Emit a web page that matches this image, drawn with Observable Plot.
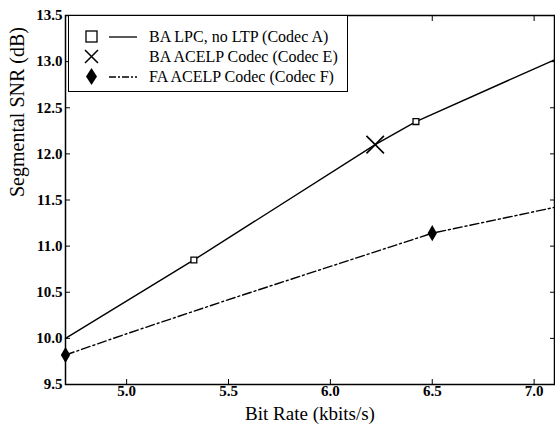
<!DOCTYPE html>
<html>
<head>
<meta charset="utf-8">
<script src="https://cdn.jsdelivr.net/npm/d3@7"></script>
<script src="https://cdn.jsdelivr.net/npm/@observablehq/plot@0.6"></script>
<style>
  body { margin: 0; background: #fff; }
  #wrap { position: relative; width: 555px; height: 424px; font-family: "Liberation Serif", "Times New Roman", "DejaVu Serif", serif; }
  #wrap svg text { font-family: "Liberation Serif", "Times New Roman", "DejaVu Serif", serif; }
  #legend { position: absolute; left: 68px; top: 15px; width: 280px; height: 77px; border: 1.2px solid #000; background: #fff; box-sizing: border-box; }
  .row { position: absolute; left: 0; height: 20px; display: flex; align-items: center; font-size: 16px; color: #000; white-space: nowrap; font-family: "Liberation Serif", "Times New Roman", serif; }
  .row svg { margin-right: 8px; }
</style>
</head>
<body>
<div id="wrap"></div>
<script>
// Codec A: BA LPC, no LTP (solid line)
const rateA = [4.7, 5.33, 6.22, 6.42, 7.1];
const snrA = [10.0, 10.85, 12.1, 12.35, 13.02];
const markRateA = [5.33, 6.42];
const markSnrA = [10.85, 12.35];
// Codec E: BA ACELP (single point)
const rateE = [6.22];
const snrE = [12.1];
// Codec F: FA ACELP (dash-dot line)
const rateF = [4.7, 5.0, 5.5, 6.0, 6.5, 7.1];
const snrF = [9.82, 10.05, 10.42, 10.78, 11.14, 11.42];
const markRateF = [4.7, 6.5];
const markSnrF = [9.82, 11.14];

const legendLabels = ["BA LPC, no LTP (Codec A)", "BA ACELP Codec (Codec E)", "FA ACELP Codec (Codec F)"];
const xTicks = [5.0, 5.5, 6.0, 6.5, 7.0];
const yTicks = [9.5, 10.0, 10.5, 11.0, 11.5, 12.0, 12.5, 13.0, 13.5];

const A = rateA.map((x, i) => ({x, y: snrA[i]}));
const AM = markRateA.map((x, i) => ({x, y: markSnrA[i]}));
const E = rateE.map((x, i) => ({x, y: snrE[i]}));
const F = rateF.map((x, i) => ({x, y: snrF[i]}));
const FM = markRateF.map((x, i) => ({x, y: markSnrF[i]}));

const serif = "'Liberation Serif', 'Times New Roman', 'DejaVu Serif', serif";
const chart = Plot.plot({
  width: 555,
  height: 424,
  marginLeft: 65,
  marginRight: 1,
  marginTop: 15,
  marginBottom: 40,
  style: {fontFamily: serif, fontSize: "15px", color: "#000", background: "#fff"},
  x: {domain: [4.7, 7.1]},
  y: {domain: [9.5, 13.5]},
  marks: [
    Plot.axisX({ticks: xTicks, tickFormat: d3.format(".1f"), tickSize: -5, tickPadding: 6, label: null, fontSize: 15, fontWeight: "bold"}),
    Plot.axisX({anchor: "top", ticks: xTicks, tickSize: -5, tickFormat: () => "", label: null}),
    Plot.axisY({ticks: yTicks, tickFormat: d3.format(".1f"), tickSize: -5, tickPadding: 8, label: null, fontSize: 15, fontWeight: "bold"}),
    Plot.axisY({anchor: "right", ticks: yTicks, tickSize: -5, tickFormat: () => "", label: null}),
    Plot.text(["Bit Rate (kbits/s)"], {frameAnchor: "bottom", lineAnchor: "middle", dy: 29, fontSize: 19}),
    Plot.text(["Segmental SNR (dB)"], {frameAnchor: "left", dx: -48, dy: -3, rotate: -90, fontSize: 20}),
    Plot.line(A, {x: "x", y: "y", stroke: "#000", strokeWidth: 1.4}),
    Plot.line(F, {x: "x", y: "y", stroke: "#000", strokeWidth: 1.4, strokeDasharray: "9,3,2,3"}),
    Plot.dot(AM, {x: "x", y: "y", symbol: "square", r: 3.3, stroke: "#000", strokeWidth: 1.3, fill: "#fff"}),
    Plot.dot(E, {x: "x", y: "y", symbol: "times", r: 8, stroke: "#000", strokeWidth: 1.6}),
    Plot.dot(FM, {x: "x", y: "y", symbol: "diamond", r: 4, fill: "#000", stroke: "#000"}),
    Plot.frame({stroke: "#000", strokeWidth: 1.5})
  ]
});
const wrap = document.getElementById("wrap");
wrap.appendChild(chart);

// legend
const legend = document.createElement("div");
legend.id = "legend";
const symbols = [
  `<rect x="5" y="4" width="11" height="11" fill="none" stroke="#000" stroke-width="1.3"/>`,
  `<path d="M4,3 L17,16 M17,3 L4,16" stroke="#000" stroke-width="1.5"/>`,
  `<path d="M10.5,1 L16,9.5 L10.5,18 L5,9.5 Z" fill="#000"/>`
];
const lineStyles = ["", "none", "7,2,2,2"];
legendLabels.forEach((lab, i) => {
  const row = document.createElement("div");
  row.className = "row";
  row.style.top = (11 + i * 20) + "px";
  row.style.left = "12px";
  const ls = lineStyles[i];
  const lineSvg = ls === "none" ? "" : `<line x1="28" x2="56" y1="10" y2="10" stroke="#000" stroke-width="1.3" ${ls ? `stroke-dasharray="${ls}"` : ""}/>`;
  row.innerHTML = `<svg width="60" height="20">${symbols[i]}${lineSvg}</svg><span>${lab}</span>`;
  legend.appendChild(row);
});
wrap.appendChild(legend);
</script>
</body>
</html>
